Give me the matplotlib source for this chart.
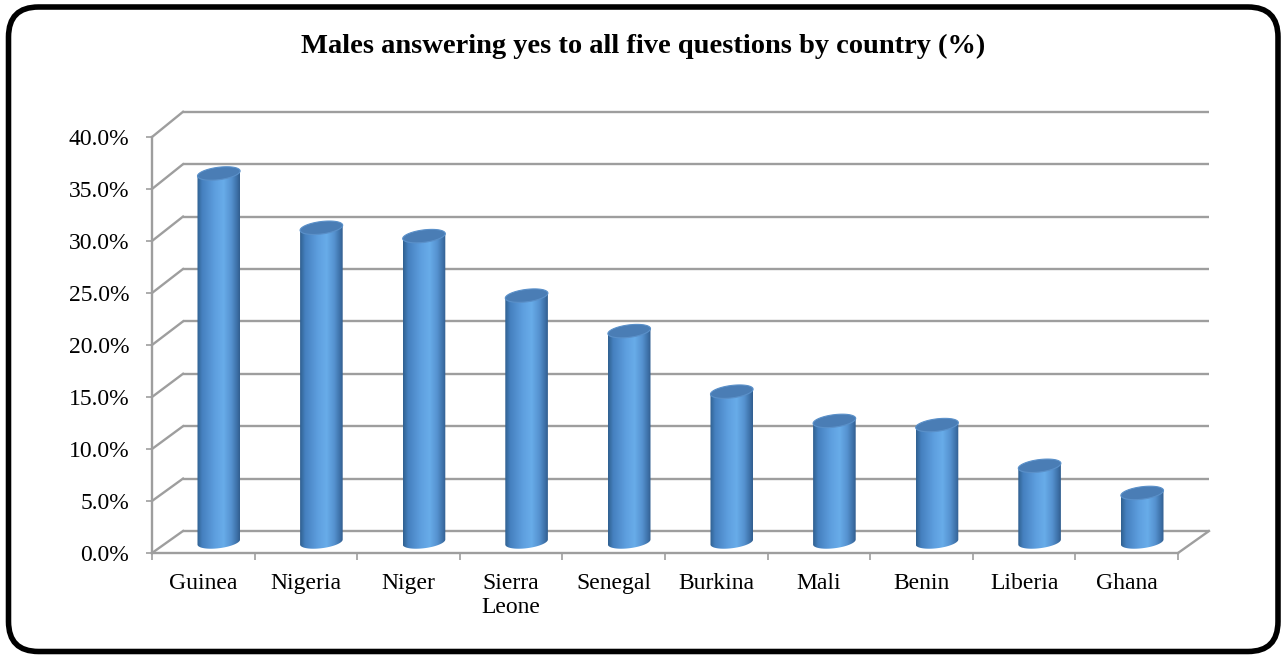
import numpy as np
import matplotlib
matplotlib.use('Agg')
import matplotlib.pyplot as plt
from matplotlib.path import Path
from matplotlib.patches import PathPatch, FancyBboxPatch
from matplotlib.colors import LinearSegmentedColormap
from matplotlib.transforms import IdentityTransform

# ---------------- data ----------------
countries = ['Guinea', 'Nigeria', 'Niger', 'Sierra\nLeone', 'Senegal',
             'Burkina', 'Mali', 'Benin', 'Liberia', 'Ghana']
values = [35.3, 30.1, 29.3, 23.6, 20.2, 14.4, 11.6, 11.2, 7.3, 4.7]
yticks = [0, 5, 10, 15, 20, 25, 30, 35, 40]
ytick_labels = [f'{v:.1f}%' for v in yticks]
title = 'Males answering yes to all five questions by country (%)'

plt.rcParams['font.family'] = ['Liberation Serif', 'DejaVu Serif']

W, H = 1287, 656
fig = plt.figure(figsize=(W / 100, H / 100), dpi=100)
fig.patch.set_facecolor('white')
ax = fig.add_axes([152 / W, 103 / H, 1026 / W, 416 / H])
ax.set_facecolor('none')

# pseudo-3D depth parameters (in data units)
DX = 0.302   # horizontal shift of back wall (categories)
DY = 2.115   # vertical shift of back wall (%)
K = 0.0077   # slight perspective scale of back wall


def proj(x, v, d):
    return x + d * DX, v * (1 + K * d) + d * DY


GRID = '#9e9e9e'
LW = 1.7
n = len(countries)

# back wall and side wall grid lines
for v in yticks:
    x0, y0 = proj(0, v, 1)
    x1, y1 = proj(n, v, 1)
    ax.plot([x0, x1], [y0, y1], color=GRID, lw=LW, clip_on=False, zorder=1,
            solid_capstyle='butt')
    fx, fy = proj(0, v, 0)
    ax.plot([fx, x0], [fy, y0], color=GRID, lw=LW, clip_on=False, zorder=1)
# floor right edge
fx, fy = proj(n, 0, 0)
bx, by = proj(n, 0, 1)
ax.plot([fx, bx], [fy, by], color=GRID, lw=LW, clip_on=False, zorder=1)

# ---------------- cylinders ----------------
cmap = LinearSegmentedColormap.from_list('cyl', [
    (0.0, '#30608f'), (0.12, '#4580bf'), (0.42, '#5e9fdf'),
    (0.62, '#68ace9'), (0.80, '#5592d0'), (0.93, '#3e71a9'), (1.0, '#315e8e')])
grad = np.linspace(0, 1, 256)[None, :]

hw = 0.2076      # half width (categories)
eh = 0.60        # ellipse vertical semi-axis (%)
s = 0.24         # ellipse tilt (%)
t_front = np.linspace(np.pi, 2 * np.pi, 60)
t_all = np.linspace(0, 2 * np.pi, 120)

for i, v in enumerate(values):
    cx, ybot = proj(i + 0.5, 0, 0.5)
    _, ytop = proj(i + 0.5, v, 0.5)
    bx_ = cx + hw * np.cos(t_front)
    by_ = ybot + eh * np.sin(t_front) + s * np.cos(t_front)
    xs = np.concatenate([[cx - hw], bx_, [cx + hw]])
    ys = np.concatenate([[ytop - s], by_, [ytop + s]])
    verts = np.column_stack([xs, ys])
    body = PathPatch(Path(np.vstack([verts, verts[:1]]), closed=True),
                     facecolor='none', edgecolor='none', transform=ax.transData)
    ax.add_patch(body)
    im = ax.imshow(grad, cmap=cmap, aspect='auto', interpolation='bilinear',
                   extent=(cx - hw, cx + hw, ybot - eh - s - 0.2, ytop + s + 0.2),
                   zorder=3)
    im.set_clip_path(body)
    tx = cx + hw * np.cos(t_all)
    ty = ytop + eh * np.sin(t_all) + s * np.cos(t_all)
    top = PathPatch(Path(np.column_stack([tx, ty]), closed=True),
                    facecolor='#4a7db5', edgecolor='#5a90c9', lw=0.8, zorder=4)
    ax.add_patch(top)

ax.set_xlim(0, n)
ax.set_ylim(0, 40)

# ---------------- axes styling ----------------
for side in ['top', 'right']:
    ax.spines[side].set_visible(False)
for side in ['left', 'bottom']:
    ax.spines[side].set_color(GRID)
    ax.spines[side].set_linewidth(LW)

ax.set_yticks(yticks)
ax.set_yticklabels(ytick_labels)
ax.tick_params(axis='y', direction='out', length=4.5, width=1.2, color=GRID,
               labelsize=17, pad=12)
ax.set_xticks(range(n + 1))
ax.set_xticklabels([''] * (n + 1))
ax.set_xticks([i + 0.5 for i in range(n)], minor=True)
ax.set_xticklabels(countries, minor=True, fontsize=17, linespacing=1.2)
ax.tick_params(axis='x', which='major', direction='out', length=5, width=1.2,
               color=GRID)
ax.tick_params(axis='x', which='minor', length=0, pad=14.5)

# ---------------- title & frame ----------------
fig.text(0.5, (H - 53) / H, title, ha='center', va='baseline', fontsize=20.5,
         fontweight='bold')
frame = FancyBboxPatch((8.5, 4.5), 1269.5, 644.5,
                       boxstyle='round,pad=0,rounding_size=30',
                       facecolor='none', edgecolor='black', lw=4.0,
                       transform=IdentityTransform())
fig.add_artist(frame)

fig.savefig('out.png', dpi=100)
